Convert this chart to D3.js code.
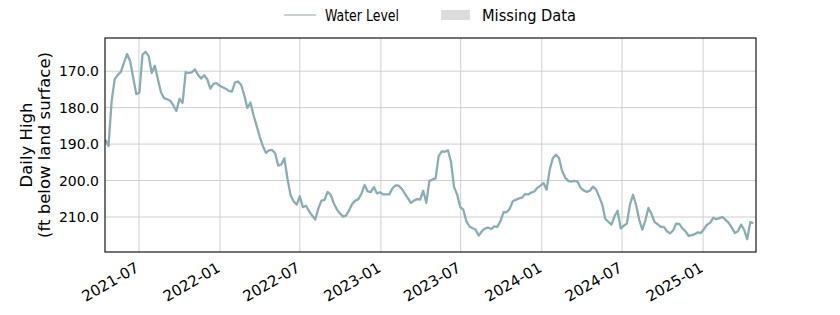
<!DOCTYPE html>
<html>
<head>
<meta charset="utf-8">
<script src="https://cdn.jsdelivr.net/npm/d3@7"></script>
<style>
  body { margin: 0; background: #fff; }
  svg { display: block; }
</style>
</head>
<body>
<main></main>
<script>
const width = 840;
const height = 315;
const margin = {top: 38, right: 84, bottom: 63, left: 105};

// weekly readings, first one on 2021-04-16
const startDate = '2021-04-16';
const stepDays = 7;
const waterLevel = [
  188.8, 190.5, 178.3, 172.2, 171.0, 170.2, 167.7, 165.3, 167.2, 171.8,
  176.3, 175.9, 165.5, 164.7, 165.8, 170.5, 168.5, 172.2, 175.8, 177.4,
  177.7, 178.1, 179.4, 180.9, 177.6, 178.7, 170.3, 170.5, 170.3, 169.5,
  171.0, 172.0, 171.1, 172.2, 174.8, 173.5, 173.3, 174.0, 174.4, 174.8,
  175.4, 175.6, 173.1, 172.8, 173.8, 176.6, 180.1, 178.6, 182.1, 185.0,
  188.0, 190.5, 192.4, 191.7, 191.6, 192.5, 195.9, 195.6, 193.9, 199.5,
  204.0, 205.7, 206.6, 204.3, 207.3, 206.9, 208.4, 209.6, 210.7, 207.7,
  205.5, 205.3, 203.1, 203.9, 206.2, 207.9, 209.0, 209.9, 209.6, 208.1,
  206.4, 205.5, 205.1, 203.6, 201.2, 203.0, 203.2, 201.8, 203.5, 203.2,
  203.8, 203.8, 203.8, 202.2, 201.3, 201.4, 202.2, 203.5, 204.8, 206.1,
  205.5, 205.1, 205.2, 202.8, 206.1, 200.1, 199.7, 199.4, 193.3, 192.0,
  192.1, 191.7, 194.8, 201.8, 203.8, 207.3, 208.0, 211.2, 212.6, 213.1,
  213.5, 215.1, 213.9, 213.2, 212.9, 213.3, 212.6, 212.7, 211.2, 208.7,
  208.7, 207.8, 205.7, 205.3, 204.9, 204.7, 203.7, 203.8, 203.3, 203.0,
  202.0, 201.4, 200.7, 202.5, 197.0, 193.9, 192.9, 193.8, 197.3, 199.2,
  200.1, 200.3, 200.1, 200.3, 202.0, 202.7, 203.1, 202.8, 201.7, 202.4,
  204.4, 206.5, 210.5, 211.3, 212.1, 209.8, 208.3, 213.1, 212.4, 211.8,
  206.6, 203.9, 206.7, 210.7, 213.5, 210.9, 207.5, 209.2, 211.4, 212.0,
  212.7, 212.7, 213.9, 214.5, 213.7, 211.8, 211.9, 213.1, 213.9, 215.2,
  215.0, 214.7, 214.2, 214.4, 213.3, 212.1, 211.6, 210.2, 210.6, 210.3,
  210.0, 210.8, 211.6, 212.9, 214.4, 213.9, 212.1, 213.5, 216.1, 211.4,
  211.7
];

const xDomain = ['2021-04-15', '2025-05-01'];
const yDomain = [160.9, 219.6];
const xTickLabels = ['2021-07', '2022-01', '2022-07', '2023-01', '2023-07', '2024-01', '2024-07', '2025-01'];
const yTickValues = [170, 180, 190, 200, 210];
const legendLabels = ['Water Level', 'Missing Data'];

const lineColor = '#89adb3';
const tickFont = 'DejaVu Sans, sans-serif';

const parseDay = d3.utcParse('%Y-%m-%d');
const parseMonth = d3.utcParse('%Y-%m');

const plotW = width - margin.left - margin.right;
const plotH = height - margin.top - margin.bottom;

const svg = d3.select('main')
  .append('svg')
  .attr('width', width)
  .attr('height', height);

const x = d3.scaleUtc()
  .domain(xDomain.map(parseDay))
  .range([margin.left, margin.left + plotW]);

const y = d3.scaleLinear()
  .domain(yDomain)
  .range([margin.top, margin.top + plotH]);

const start = parseDay(startDate);
const points = waterLevel.map((v, i) => ({date: d3.utcDay.offset(start, i * stepDays), value: v}));
const xTicks = xTickLabels.map(parseMonth);

// grid
svg.append('g')
  .selectAll('line')
  .data(xTicks)
  .join('line')
  .attr('x1', d => x(d)).attr('x2', d => x(d))
  .attr('y1', margin.top).attr('y2', margin.top + plotH)
  .attr('stroke', '#cfcfcf').attr('stroke-width', 1);

svg.append('g')
  .selectAll('line')
  .data(yTickValues)
  .join('line')
  .attr('x1', margin.left).attr('x2', margin.left + plotW)
  .attr('y1', d => y(d)).attr('y2', d => y(d))
  .attr('stroke', '#cfcfcf').attr('stroke-width', 1);

// water level line
svg.append('clipPath').attr('id', 'plotclip')
  .append('rect')
  .attr('x', margin.left).attr('y', margin.top)
  .attr('width', plotW).attr('height', plotH);

svg.append('path')
  .datum(points)
  .attr('clip-path', 'url(#plotclip)')
  .attr('fill', 'none')
  .attr('stroke', lineColor)
  .attr('stroke-width', 2.3)
  .attr('stroke-linejoin', 'round')
  .attr('d', d3.line().x(d => x(d.date)).y(d => y(d.value)));

// axes
const xAxis = svg.append('g')
  .attr('transform', 'translate(0,' + (margin.top + plotH) + ')')
  .call(d3.axisBottom(x).tickValues(xTicks).tickFormat(d3.utcFormat('%Y-%m')).tickSize(0));
xAxis.select('.domain').remove();
xAxis.selectAll('text')
  .attr('font-family', tickFont)
  .attr('font-size', 15)
  .attr('fill', '#000')
  .attr('text-anchor', 'end')
  .attr('x', -8.8)
  .attr('y', 5.3)
  .attr('dy', '0.75em')
  .attr('transform', 'rotate(-30)');

const yAxis = svg.append('g')
  .attr('transform', 'translate(' + margin.left + ',0)')
  .call(d3.axisLeft(y).tickValues(yTickValues).tickFormat(d3.format('.1f')).tickSize(0).tickPadding(6));
yAxis.select('.domain').remove();
yAxis.selectAll('text')
  .attr('font-family', tickFont)
  .attr('font-size', 14)
  .attr('fill', '#000');

// frame
svg.append('rect')
  .attr('x', margin.left).attr('y', margin.top)
  .attr('width', plotW).attr('height', plotH)
  .attr('fill', 'none')
  .attr('stroke', '#000')
  .attr('stroke-width', 1.1);

// y label
const ylab = svg.append('text')
  .attr('transform', 'translate(0,' + (margin.top + plotH / 2) + ') rotate(-90)')
  .attr('text-anchor', 'middle')
  .attr('font-family', tickFont)
  .attr('font-size', 16.5)
  .attr('fill', '#000');
ylab.append('tspan').attr('x', 0).attr('y', 32).text('Daily High');
ylab.append('tspan').attr('x', 0).attr('y', 50).text('(ft below land surface)');

// legend
const legendFont = 'Liberation Sans Narrow, DejaVu Sans Condensed, sans-serif';
const legend = svg.append('g');
legend.append('line')
  .attr('x1', 284).attr('x2', 316)
  .attr('y1', 15).attr('y2', 15)
  .attr('stroke', '#9fb6ba')
  .attr('stroke-width', 1.2);
legend.append('text')
  .attr('x', 325).attr('y', 20.5)
  .attr('font-family', legendFont)
  .attr('font-size', 15)
  .attr('textLength', 74)
  .attr('lengthAdjust', 'spacingAndGlyphs')
  .text(legendLabels[0]);
legend.append('rect')
  .attr('x', 441).attr('y', 10)
  .attr('width', 29).attr('height', 10)
  .attr('fill', '#dcdcdc');
legend.append('text')
  .attr('x', 482).attr('y', 20.5)
  .attr('font-family', legendFont)
  .attr('font-size', 15)
  .attr('textLength', 94)
  .attr('lengthAdjust', 'spacingAndGlyphs')
  .text(legendLabels[1]);
</script>
</body>
</html>
